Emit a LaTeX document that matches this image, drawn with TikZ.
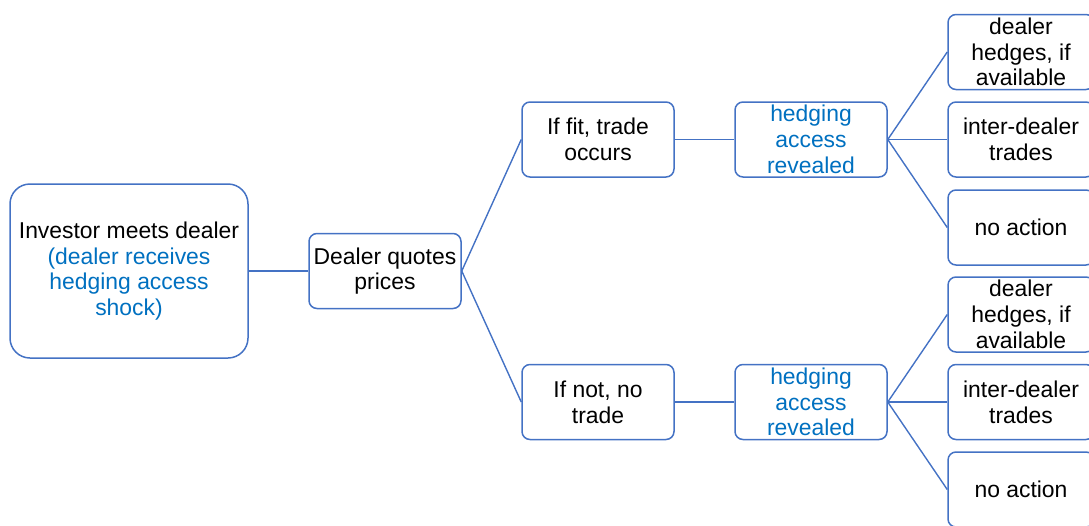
\documentclass[tikz,border=0pt]{standalone}
\usepackage{fontspec}
\setmainfont{Liberation Sans}
\definecolor{boxline}{HTML}{4472C4}
\definecolor{shocktext}{HTML}{0070C0}
\tikzset{
  stage/.style={draw=boxline, line width=1.5pt, rounded corners=8pt,
    minimum width=152pt, minimum height=75pt, inner sep=0pt, align=center,
    font=\fontsize{22.9}{25.7}\selectfont},
  rootbox/.style={stage, rounded corners=20pt, minimum width=238pt, minimum height=174pt},
  leaf/.style={stage, minimum width=146pt},
  branch/.style={draw=boxline, line width=1.4pt},
  shock/.style={text=shocktext}
}
\begin{document}
\begin{tikzpicture}[x=1pt, y=-1pt]
\useasboundingbox (0,0) rectangle (1089,525);
\clip (0,0) rectangle (1089,525);

% root and first split
\node[rootbox] (root) at (129,271) {Investor meets dealer\\\color{shocktext}(dealer receives\\\color{shocktext}hedging access\\\color{shocktext}shock)};
\node[stage] (quote) at (385,271) {Dealer quotes\\prices};
\node[stage] (fit) at (598,139.5) {If fit, trade\\occurs};
\node[stage] (nofit) at (598,402) {If not, no\\trade};

% revelation of hedging access
\node[stage, shock] (revA) at (811,139.5) {hedging\\access\\revealed};
\node[stage, shock] (revB) at (811,402) {hedging\\access\\revealed};

% dealer actions, upper branch
\node[leaf] (hedgeA) at (1021,52) {dealer\\hedges, if\\available};
\node[leaf] (interA) at (1021,139.5) {inter-dealer\\trades};
\node[leaf] (noneA) at (1021,227.5) {no action};

% dealer actions, lower branch
\node[leaf] (hedgeB) at (1021,314.5) {dealer\\hedges, if\\available};
\node[leaf] (interB) at (1021,402) {inter-dealer\\trades};
\node[leaf] (noneB) at (1021,489.5) {no action};

% connectors
\draw[branch] (root.east) -- (quote.west);
\draw[branch] (quote.east) -- (fit.west);
\draw[branch] (quote.east) -- (nofit.west);
\draw[branch] (fit.east) -- (revA.west);
\draw[branch] (nofit.east) -- (revB.west);
\draw[branch] (revA.east) -- (hedgeA.west);
\draw[branch] (revA.east) -- (interA.west);
\draw[branch] (revA.east) -- (noneA.west);
\draw[branch] (revB.east) -- (hedgeB.west);
\draw[branch] (revB.east) -- (interB.west);
\draw[branch] (revB.east) -- (noneB.west);
\end{tikzpicture}
\end{document}
